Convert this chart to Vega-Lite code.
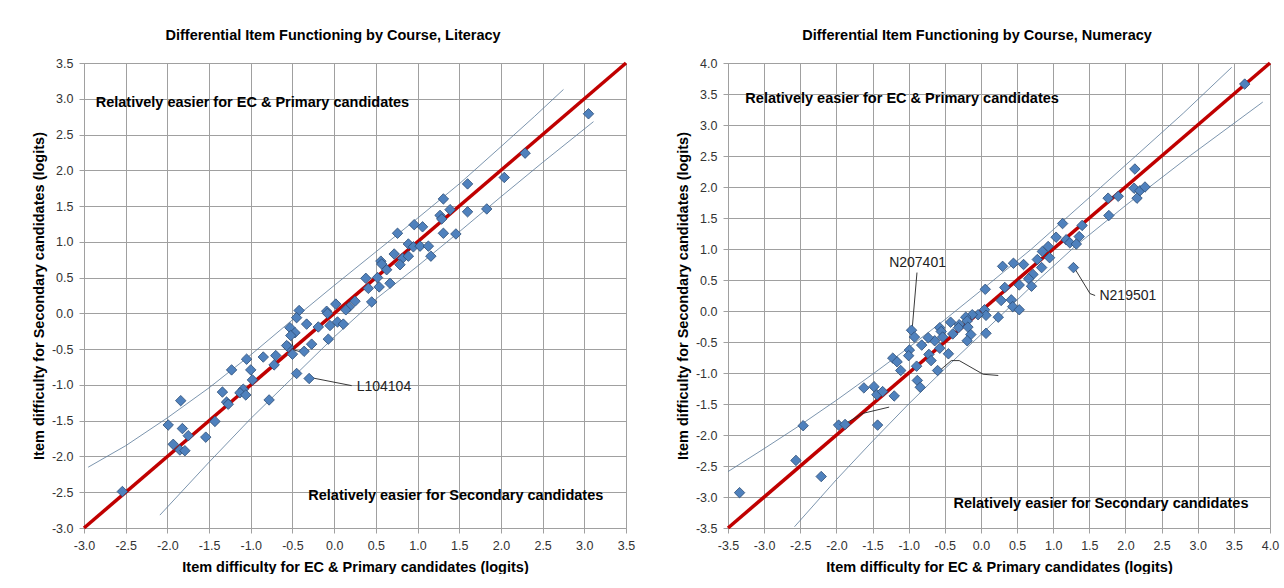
{
  "$schema": "https://vega.github.io/schema/vega-lite/v6.json",
  "padding": {"left": 30, "top": 27, "right": 0, "bottom": 0},
  "background": "#ffffff",
  "config": {
    "font": "Liberation Sans",
    "view": {"stroke": "#a0a0a0", "strokeWidth": 1},
    "title": {"font": "Liberation Sans", "fontSize": 14.5, "fontWeight": "bold", "color": "#000000", "anchor": "middle", "frame": "bounds", "offset": 12.5},
    "axis": {
      "grid": true, "gridColor": "#a0a0a0", "gridWidth": 1, "gridOpacity": 1,
      "domainColor": "#a0a0a0", "tickColor": "#a0a0a0", "tickSize": 5, "tickCount": 20,
      "labelFont": "Liberation Sans", "labelFontSize": 12.5, "labelColor": "#333333", "labelPadding": 6,
      "labelOverlap": false, "labelFlush": false,
      "titleFont": "Liberation Sans", "titleFontSize": 14.5, "titleFontWeight": "bold", "titleColor": "#000000"
    },
    "axisX": {"titlePadding": 8.5},
    "axisY": {"titlePadding": 5}
  },
  "datasets": {
    "lit_identity": [{"ecp": -3, "sec": -3}, {"ecp": 3.5, "sec": 3.5}],
    "num_identity": [{"ecp": -3.5, "sec": -3.5}, {"ecp": 4, "sec": 4}],
    "lit_band": [
      {"side": "upper", "ecp": -2.95, "sec": -2.15}, {"side": "upper", "ecp": -2.5, "sec": -1.85},
      {"side": "upper", "ecp": -2.0, "sec": -1.46}, {"side": "upper", "ecp": -1.5, "sec": -1.04},
      {"side": "upper", "ecp": -1.0, "sec": -0.58}, {"side": "upper", "ecp": -0.5, "sec": -0.09},
      {"side": "upper", "ecp": 0.0, "sec": 0.39}, {"side": "upper", "ecp": 0.5, "sec": 0.86},
      {"side": "upper", "ecp": 1.0, "sec": 1.33}, {"side": "upper", "ecp": 1.5, "sec": 1.81},
      {"side": "upper", "ecp": 2.0, "sec": 2.33}, {"side": "upper", "ecp": 2.4, "sec": 2.75},
      {"side": "upper", "ecp": 2.75, "sec": 3.13},
      {"side": "lower", "ecp": -2.09, "sec": -2.82}, {"side": "lower", "ecp": -1.5, "sec": -2.08},
      {"side": "lower", "ecp": -1.0, "sec": -1.47}, {"side": "lower", "ecp": -0.5, "sec": -0.9},
      {"side": "lower", "ecp": 0.0, "sec": -0.33}, {"side": "lower", "ecp": 0.5, "sec": 0.2},
      {"side": "lower", "ecp": 1.0, "sec": 0.66}, {"side": "lower", "ecp": 1.5, "sec": 1.14},
      {"side": "lower", "ecp": 2.0, "sec": 1.63}, {"side": "lower", "ecp": 2.5, "sec": 2.11},
      {"side": "lower", "ecp": 3.11, "sec": 2.68}
    ],
    "num_band": [
      {"side": "upper", "ecp": -3.5, "sec": -2.59}, {"side": "upper", "ecp": -3.0, "sec": -2.22},
      {"side": "upper", "ecp": -2.5, "sec": -1.84}, {"side": "upper", "ecp": -2.0, "sec": -1.44},
      {"side": "upper", "ecp": -1.5, "sec": -1.02}, {"side": "upper", "ecp": -1.0, "sec": -0.59},
      {"side": "upper", "ecp": -0.5, "sec": -0.14}, {"side": "upper", "ecp": 0.0, "sec": 0.33},
      {"side": "upper", "ecp": 0.7, "sec": 1.0}, {"side": "upper", "ecp": 1.5, "sec": 1.83},
      {"side": "upper", "ecp": 2.2, "sec": 2.56}, {"side": "upper", "ecp": 2.8, "sec": 3.19},
      {"side": "upper", "ecp": 3.47, "sec": 3.93},
      {"side": "lower", "ecp": -2.58, "sec": -3.48}, {"side": "lower", "ecp": -2.0, "sec": -2.72},
      {"side": "lower", "ecp": -1.5, "sec": -2.1}, {"side": "lower", "ecp": -1.0, "sec": -1.5},
      {"side": "lower", "ecp": -0.5, "sec": -0.93}, {"side": "lower", "ecp": 0.0, "sec": -0.38},
      {"side": "lower", "ecp": 0.7, "sec": 0.4}, {"side": "lower", "ecp": 1.3, "sec": 1.04},
      {"side": "lower", "ecp": 2.0, "sec": 1.7}, {"side": "lower", "ecp": 2.9, "sec": 2.51},
      {"side": "lower", "ecp": 3.9, "sec": 3.37}
    ],
    "lit_leaders": [
      {"id": "L104104", "seq": 1, "ecp": -0.27, "sec": -0.9}, {"id": "L104104", "seq": 2, "ecp": 0.21, "sec": -1.01},
      {"id": "a", "seq": 1, "ecp": -0.53, "sec": -0.19}, {"id": "a", "seq": 2, "ecp": -0.49, "sec": -0.51},
      {"id": "a", "seq": 3, "ecp": -0.39, "sec": -0.54}
    ],
    "num_leaders": [
      {"id": "N207401", "seq": 1, "ecp": -0.885, "sec": 0.62}, {"id": "N207401", "seq": 2, "ecp": -0.95, "sec": -0.27},
      {"id": "N219501", "seq": 1, "ecp": 1.29, "sec": 0.7}, {"id": "N219501", "seq": 2, "ecp": 1.51, "sec": 0.28},
      {"id": "N219501", "seq": 3, "ecp": 1.58, "sec": 0.25},
      {"id": "b", "seq": 1, "ecp": -0.6, "sec": -0.99}, {"id": "b", "seq": 2, "ecp": -0.41, "sec": -0.8},
      {"id": "b", "seq": 3, "ecp": -0.3, "sec": -0.8}, {"id": "b", "seq": 4, "ecp": 0.03, "sec": -1.02},
      {"id": "b", "seq": 5, "ecp": 0.24, "sec": -1.04},
      {"id": "c", "seq": 1, "ecp": -1.96, "sec": -1.87}, {"id": "c", "seq": 2, "ecp": -1.63, "sec": -1.65},
      {"id": "c", "seq": 3, "ecp": -1.27, "sec": -1.55}
    ],
    "lit_labels": [{"item": "L104104", "ecp": 0.27, "sec": -1.03}],
    "num_labels": [{"item": "N207401", "ecp": -1.27, "sec": 0.78}, {"item": "N219501", "ecp": 1.64, "sec": 0.24}],
    "lit_notes": [
      {"note": "Relatively easier for EC & Primary candidates", "ecp": -2.86, "sec": 2.94},
      {"note": "Relatively easier for Secondary candidates", "ecp": -0.31, "sec": -2.55}
    ],
    "num_notes": [
      {"note": "Relatively easier for EC & Primary candidates", "ecp": -3.26, "sec": 3.42},
      {"note": "Relatively easier for Secondary candidates", "ecp": -0.38, "sec": -3.12}
    ],
    "lit_items": [
      {"ecp": 3.05, "sec": 2.79}, {"ecp": 2.29, "sec": 2.24}, {"ecp": 2.04, "sec": 1.9}, {"ecp": 1.6, "sec": 1.81},
      {"ecp": 1.31, "sec": 1.6}, {"ecp": 1.83, "sec": 1.46}, {"ecp": 1.6, "sec": 1.42}, {"ecp": 1.39, "sec": 1.45},
      {"ecp": 1.27, "sec": 1.37}, {"ecp": 1.29, "sec": 1.32}, {"ecp": 0.96, "sec": 1.24}, {"ecp": 1.06, "sec": 1.21},
      {"ecp": 1.31, "sec": 1.12}, {"ecp": 1.46, "sec": 1.11}, {"ecp": 0.76, "sec": 1.12}, {"ecp": 0.89, "sec": 0.97},
      {"ecp": 0.95, "sec": 0.93}, {"ecp": 1.03, "sec": 0.94}, {"ecp": 1.13, "sec": 0.94}, {"ecp": 1.16, "sec": 0.8},
      {"ecp": 0.72, "sec": 0.83}, {"ecp": 0.82, "sec": 0.77}, {"ecp": 0.89, "sec": 0.8}, {"ecp": 0.79, "sec": 0.68},
      {"ecp": 0.56, "sec": 0.73}, {"ecp": 0.57, "sec": 0.69}, {"ecp": 0.63, "sec": 0.61}, {"ecp": 0.38, "sec": 0.49},
      {"ecp": 0.52, "sec": 0.5}, {"ecp": 0.41, "sec": 0.35}, {"ecp": 0.54, "sec": 0.37}, {"ecp": 0.67, "sec": 0.42},
      {"ecp": 0.02, "sec": 0.13}, {"ecp": 0.25, "sec": 0.17}, {"ecp": 0.18, "sec": 0.09}, {"ecp": -0.09, "sec": 0.03},
      {"ecp": -0.08, "sec": 0.0}, {"ecp": 0.14, "sec": 0.05}, {"ecp": 0.45, "sec": 0.16}, {"ecp": -0.33, "sec": -0.15},
      {"ecp": -0.42, "sec": 0.04}, {"ecp": -0.45, "sec": -0.06}, {"ecp": -0.19, "sec": -0.19}, {"ecp": -0.05, "sec": -0.17},
      {"ecp": 0.04, "sec": -0.12}, {"ecp": 0.11, "sec": -0.15}, {"ecp": -0.07, "sec": -0.36}, {"ecp": -0.53, "sec": -0.2},
      {"ecp": -0.47, "sec": -0.27}, {"ecp": -0.52, "sec": -0.31}, {"ecp": -0.55, "sec": -0.47}, {"ecp": -0.5, "sec": -0.57},
      {"ecp": -0.36, "sec": -0.53}, {"ecp": -0.27, "sec": -0.43}, {"ecp": -0.57, "sec": -0.45}, {"ecp": -0.85, "sec": -0.61},
      {"ecp": -0.7, "sec": -0.59}, {"ecp": -0.72, "sec": -0.72}, {"ecp": -1.05, "sec": -0.64}, {"ecp": -1.0, "sec": -0.79},
      {"ecp": -1.23, "sec": -0.79}, {"ecp": -0.98, "sec": -0.93}, {"ecp": -0.45, "sec": -0.84}, {"ecp": -0.3, "sec": -0.91},
      {"ecp": -0.78, "sec": -1.21}, {"ecp": -1.34, "sec": -1.1}, {"ecp": -1.09, "sec": -1.06}, {"ecp": -1.13, "sec": -1.11},
      {"ecp": -1.06, "sec": -1.14}, {"ecp": -1.29, "sec": -1.24}, {"ecp": -1.27, "sec": -1.27}, {"ecp": -1.84, "sec": -1.22},
      {"ecp": -1.43, "sec": -1.51}, {"ecp": -1.99, "sec": -1.56}, {"ecp": -1.82, "sec": -1.61}, {"ecp": -1.75, "sec": -1.71},
      {"ecp": -1.54, "sec": -1.73}, {"ecp": -1.93, "sec": -1.83}, {"ecp": -1.85, "sec": -1.91}, {"ecp": -1.79, "sec": -1.92},
      {"ecp": -2.54, "sec": -2.49}
    ],
    "num_items": [
      {"ecp": 3.65, "sec": 3.66}, {"ecp": 2.13, "sec": 2.29}, {"ecp": 2.12, "sec": 1.98}, {"ecp": 2.2, "sec": 1.94},
      {"ecp": 2.27, "sec": 2.0}, {"ecp": 2.16, "sec": 1.82}, {"ecp": 1.76, "sec": 1.82}, {"ecp": 1.9, "sec": 1.85},
      {"ecp": 1.77, "sec": 1.54}, {"ecp": 1.13, "sec": 1.41}, {"ecp": 1.4, "sec": 1.38}, {"ecp": 1.04, "sec": 1.19},
      {"ecp": 1.18, "sec": 1.15}, {"ecp": 1.23, "sec": 1.1}, {"ecp": 1.36, "sec": 1.2}, {"ecp": 1.32, "sec": 1.08},
      {"ecp": 0.93, "sec": 1.04}, {"ecp": 0.85, "sec": 0.96}, {"ecp": 0.78, "sec": 0.83}, {"ecp": 0.95, "sec": 0.86},
      {"ecp": 1.28, "sec": 0.7}, {"ecp": 0.59, "sec": 0.75}, {"ecp": 0.45, "sec": 0.77}, {"ecp": 0.3, "sec": 0.72},
      {"ecp": 0.84, "sec": 0.7}, {"ecp": 0.72, "sec": 0.59}, {"ecp": 0.66, "sec": 0.52}, {"ecp": 0.7, "sec": 0.4},
      {"ecp": 0.53, "sec": 0.42}, {"ecp": 0.33, "sec": 0.38}, {"ecp": 0.06, "sec": 0.35}, {"ecp": 0.42, "sec": 0.18},
      {"ecp": 0.28, "sec": 0.17}, {"ecp": 0.44, "sec": 0.07}, {"ecp": 0.53, "sec": 0.02}, {"ecp": 0.24, "sec": -0.1},
      {"ecp": 0.05, "sec": 0.02}, {"ecp": 0.07, "sec": -0.07}, {"ecp": 0.07, "sec": -0.36}, {"ecp": -0.04, "sec": -0.06},
      {"ecp": -0.12, "sec": -0.06}, {"ecp": -0.21, "sec": -0.1}, {"ecp": -0.19, "sec": -0.16}, {"ecp": -0.3, "sec": -0.22},
      {"ecp": -0.42, "sec": -0.18}, {"ecp": -0.57, "sec": -0.27}, {"ecp": -0.31, "sec": -0.27}, {"ecp": -0.18, "sec": -0.26},
      {"ecp": -0.14, "sec": -0.38}, {"ecp": -0.19, "sec": -0.48}, {"ecp": -0.39, "sec": -0.37}, {"ecp": -0.55, "sec": -0.33},
      {"ecp": -0.53, "sec": -0.42}, {"ecp": -0.64, "sec": -0.48}, {"ecp": -0.73, "sec": -0.43}, {"ecp": -0.57, "sec": -0.6},
      {"ecp": -0.45, "sec": -0.69}, {"ecp": -0.72, "sec": -0.7}, {"ecp": -0.82, "sec": -0.55}, {"ecp": -0.96, "sec": -0.31},
      {"ecp": -0.92, "sec": -0.42}, {"ecp": -0.99, "sec": -0.63}, {"ecp": -1.0, "sec": -0.72}, {"ecp": -0.69, "sec": -0.8},
      {"ecp": -0.89, "sec": -0.89}, {"ecp": -0.6, "sec": -0.96}, {"ecp": -1.22, "sec": -0.76}, {"ecp": -1.16, "sec": -0.82},
      {"ecp": -1.11, "sec": -0.96}, {"ecp": -0.88, "sec": -1.12}, {"ecp": -0.84, "sec": -1.23}, {"ecp": -1.2, "sec": -1.37},
      {"ecp": -1.62, "sec": -1.24}, {"ecp": -1.48, "sec": -1.22}, {"ecp": -1.44, "sec": -1.35}, {"ecp": -1.36, "sec": -1.3},
      {"ecp": -1.43, "sec": -1.84}, {"ecp": -1.97, "sec": -1.84}, {"ecp": -1.88, "sec": -1.83}, {"ecp": -2.46, "sec": -1.85},
      {"ecp": -2.56, "sec": -2.41}, {"ecp": -2.21, "sec": -2.67}, {"ecp": -3.34, "sec": -2.93}
    ]
  },
  "bounds": "flush",
  "spacing": 102,
  "hconcat": [
    {
      "width": 542,
      "height": 465,
      "title": "Differential Item Functioning by Course, Literacy",
      "layer": [
        {
          "data": {"name": "lit_band"},
          "mark": {"type": "line", "color": "#5B7A99", "strokeWidth": 0.8},
          "encoding": {
            "x": {"field": "ecp", "type": "quantitative", "scale": {"domain": [-3, 3.5], "nice": false, "zero": false},
                  "axis": {"title": "Item difficulty for EC & Primary candidates (logits)", "grid": true, "tickCount": 20, "values": [-3, -2.5, -2, -1.5, -1, -0.5, 0, 0.5, 1, 1.5, 2, 2.5, 3, 3.5], "labelExpr": "replace(format(datum.value, '.1f'), '\u2212', '-')"}},
            "y": {"field": "sec", "type": "quantitative", "scale": {"domain": [-3, 3.5], "nice": false, "zero": false},
                  "axis": {"title": "Item difficulty for Secondary candidates (logits)", "grid": true, "tickCount": 20, "values": [-3, -2.5, -2, -1.5, -1, -0.5, 0, 0.5, 1, 1.5, 2, 2.5, 3, 3.5], "labelExpr": "replace(format(datum.value, '.1f'), '\u2212', '-')"}},
            "detail": {"field": "side"},
            "order": {"field": "ecp"}
          }
        },
        {
          "data": {"name": "lit_identity"},
          "mark": {"type": "line", "color": "#C00000", "strokeWidth": 3.5},
          "encoding": {"x": {"field": "ecp", "type": "quantitative"}, "y": {"field": "sec", "type": "quantitative"}}
        },
        {
          "data": {"name": "lit_leaders"},
          "mark": {"type": "line", "color": "#222222", "strokeWidth": 0.9},
          "encoding": {"x": {"field": "ecp", "type": "quantitative"}, "y": {"field": "sec", "type": "quantitative"}, "detail": {"field": "id"}, "order": {"field": "seq"}}
        },
        {
          "data": {"name": "lit_items"},
          "mark": {"type": "point", "shape": "diamond", "filled": true, "size": 110, "color": "#4F81BD", "stroke": "#2C4D75", "strokeWidth": 0.8, "opacity": 1},
          "encoding": {"x": {"field": "ecp", "type": "quantitative"}, "y": {"field": "sec", "type": "quantitative"}}
        },
        {
          "data": {"name": "lit_labels"},
          "mark": {"type": "text", "align": "left", "baseline": "middle", "fontSize": 14, "color": "#222222"},
          "encoding": {"x": {"field": "ecp", "type": "quantitative"}, "y": {"field": "sec", "type": "quantitative"}, "text": {"field": "item"}}
        },
        {
          "data": {"name": "lit_notes"},
          "mark": {"type": "text", "align": "left", "baseline": "middle", "fontSize": 14.5, "fontWeight": "bold", "color": "#000000"},
          "encoding": {"x": {"field": "ecp", "type": "quantitative"}, "y": {"field": "sec", "type": "quantitative"}, "text": {"field": "note"}}
        }
      ]
    },
    {
      "width": 542,
      "height": 465,
      "title": "Differential Item Functioning by Course, Numeracy",
      "layer": [
        {
          "data": {"name": "num_band"},
          "mark": {"type": "line", "color": "#5B7A99", "strokeWidth": 0.8},
          "encoding": {
            "x": {"field": "ecp", "type": "quantitative", "scale": {"domain": [-3.5, 4], "nice": false, "zero": false},
                  "axis": {"title": "Item difficulty for EC & Primary candidates (logits)", "grid": true, "tickCount": 20, "values": [-3.5, -3, -2.5, -2, -1.5, -1, -0.5, 0, 0.5, 1, 1.5, 2, 2.5, 3, 3.5, 4], "labelExpr": "replace(format(datum.value, '.1f'), '\u2212', '-')"}},
            "y": {"field": "sec", "type": "quantitative", "scale": {"domain": [-3.5, 4], "nice": false, "zero": false},
                  "axis": {"title": "Item difficulty for Secondary candidates (logits)", "grid": true, "tickCount": 20, "values": [-3.5, -3, -2.5, -2, -1.5, -1, -0.5, 0, 0.5, 1, 1.5, 2, 2.5, 3, 3.5, 4], "labelExpr": "replace(format(datum.value, '.1f'), '\u2212', '-')"}},
            "detail": {"field": "side"},
            "order": {"field": "ecp"}
          }
        },
        {
          "data": {"name": "num_identity"},
          "mark": {"type": "line", "color": "#C00000", "strokeWidth": 3.5},
          "encoding": {"x": {"field": "ecp", "type": "quantitative"}, "y": {"field": "sec", "type": "quantitative"}}
        },
        {
          "data": {"name": "num_leaders"},
          "mark": {"type": "line", "color": "#222222", "strokeWidth": 0.9},
          "encoding": {"x": {"field": "ecp", "type": "quantitative"}, "y": {"field": "sec", "type": "quantitative"}, "detail": {"field": "id"}, "order": {"field": "seq"}}
        },
        {
          "data": {"name": "num_items"},
          "mark": {"type": "point", "shape": "diamond", "filled": true, "size": 110, "color": "#4F81BD", "stroke": "#2C4D75", "strokeWidth": 0.8, "opacity": 1},
          "encoding": {"x": {"field": "ecp", "type": "quantitative"}, "y": {"field": "sec", "type": "quantitative"}}
        },
        {
          "data": {"name": "num_labels"},
          "mark": {"type": "text", "align": "left", "baseline": "middle", "fontSize": 14, "color": "#222222"},
          "encoding": {"x": {"field": "ecp", "type": "quantitative"}, "y": {"field": "sec", "type": "quantitative"}, "text": {"field": "item"}}
        },
        {
          "data": {"name": "num_notes"},
          "mark": {"type": "text", "align": "left", "baseline": "middle", "fontSize": 14.5, "fontWeight": "bold", "color": "#000000"},
          "encoding": {"x": {"field": "ecp", "type": "quantitative"}, "y": {"field": "sec", "type": "quantitative"}, "text": {"field": "note"}}
        }
      ]
    }
  ]
}
